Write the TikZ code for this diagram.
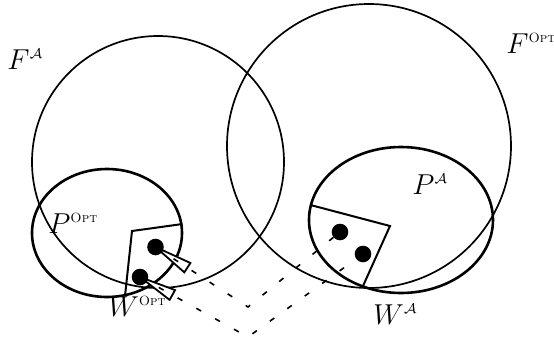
\documentclass[tikz,border=0pt]{standalone}
\usepackage{amsmath,amssymb}
\usepackage{tikz}
\usetikzlibrary{calc, backgrounds}

\begin{document}
\begin{tikzpicture}[
    x=0.5pt, y=-0.5pt,
    bigset/.style={draw, line width=0.85pt},
    region/.style={draw, line width=1.3pt},
    window/.style={draw, line width=1pt},
    dot/.style={circle, fill, inner sep=0pt, minimum size=8.3pt},
    cone/.style={draw, fill=white, line width=0.9pt},
    link/.style={dash pattern=on 2.75pt off 8pt, line width=0.8pt},
    lbl/.style={anchor=base west, inner sep=0pt, font=\fontsize{13.4}{16}\selectfont}
]
\useasboundingbox (0,0) rectangle (554,344);

% ── Points ──
\node[dot] (po1) at (155.5,247) {};
\node[dot] (po2) at (140,277) {};
\node[dot] (pa1) at (340,232) {};
\node[dot] (pa2) at (363,254) {};
\coordinate (v1) at (248,307);
\coordinate (v2) at (248,337);

\begin{scope}[on background layer]
% ── Sets ──
\draw[bigset] (158,162) circle [radius=63pt];
\draw[bigset] (369,146) circle [radius=71pt];
\draw[region] (107,233) ellipse [x radius=37.5pt, y radius=32pt];
\draw[region] (401,220) ellipse [x radius=46pt, y radius=36.5pt];

% ── Windows ──
\draw[window] (182.5,224) -- (132,231) -- (125,296);
\draw[window] (310.5,205) -- (390,226) -- (363,286);

% ── Cones ──
\coordinate (b1) at ($(po1.center)!19pt!(v1)$);
\coordinate (b2) at ($(po2.center)!18.5pt!(v2)$);
\draw[cone] (po1.center) -- ($(b1)!2.8pt!90:(v1)$) -- ($(b1)!2.8pt!-90:(v1)$) -- cycle;
\draw[cone] (po2.center) -- ($(b2)!2.8pt!90:(v2)$) -- ($(b2)!2.8pt!-90:(v2)$) -- cycle;

% ── Links ──
\draw[link] (po1.center) -- (v1) -- (pa1.center);
\draw[link] (po2.center) -- (v2) -- (pa2.center);
\end{scope}

% ── Labels ──
\node[lbl] (fa) at (7,69) {$F^{\scriptscriptstyle\mathcal{A}}$};
\node[lbl] (fo) at (506,53) {$F^{\scriptscriptstyle\textsc{Opt}}$};
\node[lbl] (po) at (48,233) {$P^{\scriptscriptstyle\textsc{Opt}}$};
\node[lbl] (wo) at (108,316) {$W^{\scriptscriptstyle\textsc{Opt}}$};
\node[lbl] (pa) at (412,194) {$P^{\scriptscriptstyle\mathcal{A}}$};
\node[lbl] (wa) at (373,324) {$W^{\scriptscriptstyle\mathcal{A}}$};

\end{tikzpicture}
\end{document}
